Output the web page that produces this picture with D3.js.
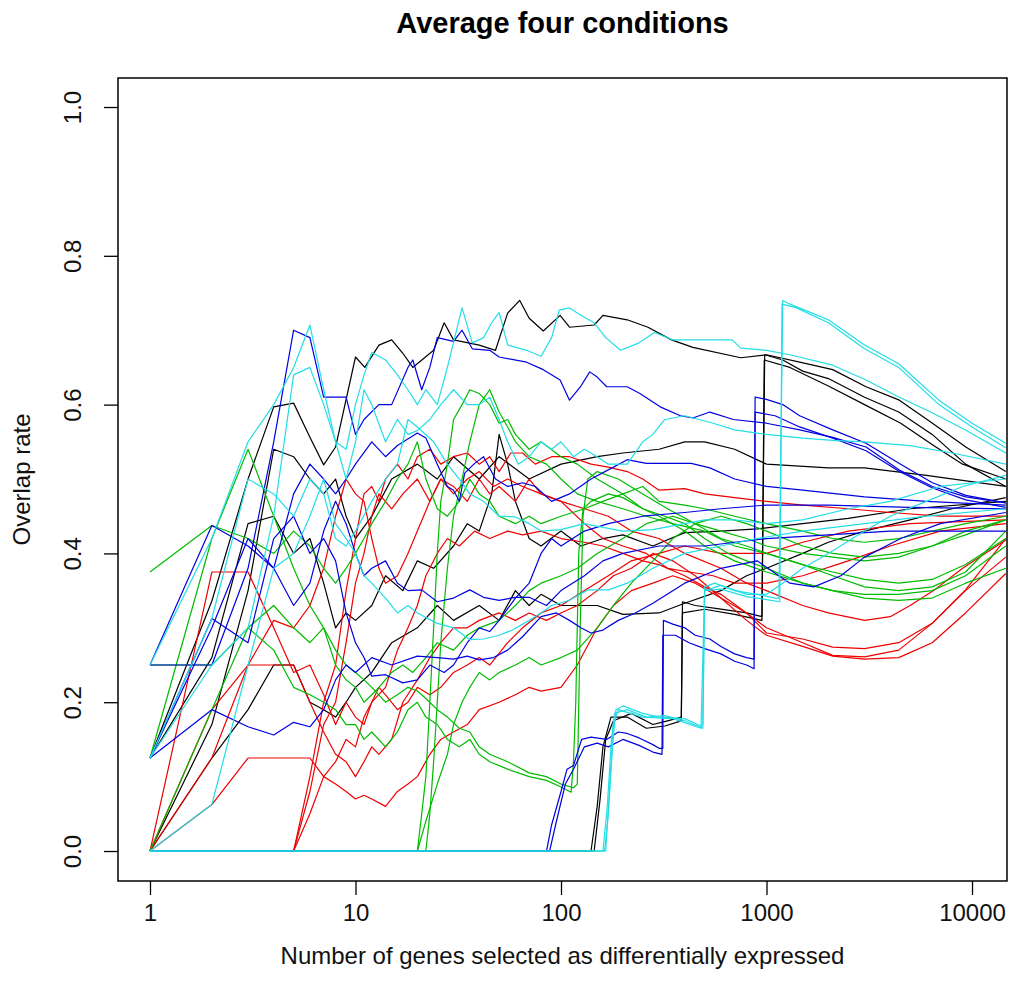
<!DOCTYPE html>
<html>
<head>
<meta charset="utf-8">
<script src="https://cdn.jsdelivr.net/npm/d3@7"></script>
<style>
  body { margin: 0; background: #fff; }
  text { font-family: "Liberation Sans", Arial, sans-serif; }
</style>
</head>
<body>
<svg id="chart" width="1011" height="998"></svg>
<script>
// tick values
const xTicks = [1, 10, 100, 1000, 10000];
const yTicks = [0, 0.2, 0.4, 0.6, 0.8, 1.0];

// each line: [number of genes, overlap rate]
const blackSeries = [
  [[1,0.125],[2,0.336],[3,0.5],[4,0.597],[5,0.602],[6,0.556],[7,0.519],[8,0.543],[10,0.664],[11.1,0.65],[13,0.68],[15,0.687],[17,0.669],[19,0.65],[24,0.673],[27,0.71],[30,0.687],[40,0.68],[48,0.673],[55,0.723],[63,0.74],[70,0.716],[82,0.699],[99,0.72],[110,0.704],[145,0.707],[160,0.72],[210,0.714],[265,0.704],[345,0.687],[438,0.677],[750,0.663],[1000,0.667],[1450,0.657],[2100,0.647],[3050,0.624],[4430,0.606],[6420,0.575],[9330,0.543],[14600,0.51]],
  [[1,0],[140,0],[150,0.06],[160,0.14],[175,0.18],[210,0.18],[260,0.165],[320,0.168],[385,0.175],[390,0.335],[450,0.33],[600,0.325],[800,0.32],[950,0.315],[980,0.667],[1200,0.66],[1500,0.645],[2000,0.635],[3000,0.61],[4400,0.59],[6400,0.56],[9300,0.52],[14600,0.49]],
  [[1,0],[145,0],[155,0.07],[165,0.15],[180,0.175],[220,0.185],[280,0.17],[330,0.175],[385,0.18],[390,0.32],[500,0.325],[700,0.318],[950,0.31],[975,0.66],[1300,0.65],[2000,0.625],[3000,0.6],[4500,0.575],[6500,0.545],[9000,0.52],[14600,0.5]],
  [[1,0],[2,0.17],[3,0.35],[4,0.54],[5,0.53],[6,0.5],[7,0.48],[8,0.5],[9,0.45],[10,0.42],[12,0.45],[15,0.5],[20,0.52],[25,0.5],[30,0.53],[40,0.5],[50,0.53],[70,0.5],[100,0.52],[150,0.53],[200,0.535],[300,0.54],[400,0.55],[500,0.55],[700,0.54],[1000,0.52],[2000,0.515],[3000,0.515],[6000,0.505],[14600,0.49]],
  [[1,0.125],[2,0.26],[3,0.44],[4,0.45],[5,0.4],[6,0.42],[7,0.36],[8,0.3],[9,0.32],[10,0.31],[12,0.33],[14,0.37],[17,0.35],[20,0.39],[24,0.38],[30,0.41],[35,0.44],[40,0.43],[46,0.48],[50,0.56],[55,0.52],[60,0.47],[70,0.42],[80,0.41],[100,0.43],[125,0.41],[160,0.42],[200,0.425],[280,0.41],[400,0.428],[600,0.43],[900,0.433],[1500,0.44],[2500,0.447],[5000,0.46],[14600,0.47]],
  [[1,0],[2,0.125],[3,0.19],[4,0.25],[5,0.25],[6,0.2],[7,0.19],[8,0.18],[9,0.2],[10,0.22],[12,0.24],[15,0.28],[20,0.3],[25,0.33],[30,0.31],[40,0.33],[50,0.31],[60,0.35],[70,0.33],[80,0.345],[100,0.33],[150,0.33],[200,0.318],[300,0.32],[400,0.333],[600,0.35],[800,0.37],[1000,0.38],[1500,0.4],[2000,0.415],[3000,0.43],[5000,0.445],[8000,0.46],[14600,0.475]]
];

const redSeries = [
  [[1,0],[5,0],[6,0.1],[7,0.2],[8,0.25],[9,0.35],[10,0.42],[11,0.48],[12,0.49],[13,0.47],[14,0.5],[16,0.52],[18,0.5],[20,0.53],[23,0.54],[26,0.52],[30,0.53],[35,0.535],[40,0.52],[45,0.53],[50,0.51],[57,0.535],[65,0.535],[75,0.52],[90,0.53],[110,0.53],[140,0.52],[170,0.516],[210,0.51],[250,0.5],[300,0.485],[400,0.487],[500,0.48],[700,0.475],[1000,0.47],[1500,0.465],[2500,0.46],[4000,0.455],[7000,0.45],[14600,0.45]],
  [[1,0],[5,0],[6,0.08],[7,0.17],[8,0.2],[9,0.28],[10,0.36],[11,0.4],[12,0.45],[13,0.48],[15,0.46],[17,0.48],[20,0.5],[23,0.47],[26,0.5],[30,0.49],[35,0.47],[40,0.5],[45,0.48],[50,0.49],[60,0.47],[70,0.5],[80,0.48],[100,0.47],[130,0.46],[170,0.45],[220,0.43],[300,0.42],[400,0.4],[600,0.38],[800,0.36],[1000,0.35],[1500,0.33],[2000,0.32],[3000,0.31],[4000,0.315],[5000,0.33],[6500,0.35],[9000,0.38],[14600,0.418]],
  [[1,0],[2,0.375],[3,0.375],[4,0.3],[5,0.24],[6,0.25],[7,0.21],[8,0.17],[9,0.2],[10,0.18],[11,0.17],[12,0.2],[14,0.22],[16,0.27],[18,0.3],[20,0.33],[22,0.37],[25,0.4],[28,0.42],[32,0.41],[38,0.43],[45,0.42],[55,0.43],[65,0.425],[80,0.43],[100,0.42],[130,0.415],[160,0.41],[200,0.4],[250,0.39],[300,0.385],[400,0.37],[500,0.355],[600,0.345],[800,0.32],[1000,0.293],[1500,0.285],[2100,0.274],[3000,0.272],[4400,0.28],[6400,0.306],[9300,0.351],[14600,0.42]],
  [[1,0],[2,0.125],[3,0.25],[4,0.25],[5,0.25],[6,0.2],[7,0.16],[8,0.13],[9,0.12],[10,0.1],[11,0.12],[12,0.14],[13,0.13],[15,0.15],[17,0.2],[20,0.23],[23,0.26],[26,0.28],[30,0.3],[35,0.3],[40,0.31],[50,0.32],[60,0.31],[70,0.32],[85,0.31],[100,0.32],[120,0.33],[150,0.35],[180,0.37],[220,0.38],[280,0.4],[350,0.39],[450,0.37],[600,0.34],[800,0.32],[1000,0.3],[1500,0.28],[2100,0.263],[3000,0.261],[4400,0.27],[6400,0.306],[9300,0.35],[14600,0.395]],
  [[1,0],[2,0.0625],[3,0.125],[4,0.125],[5,0.125],[6,0.125],[7,0.1],[8,0.09],[9,0.08],[10,0.07],[11,0.075],[12,0.07],[14,0.06],[16,0.08],[18,0.09],[20,0.1],[23,0.13],[26,0.15],[30,0.16],[35,0.17],[40,0.19],[50,0.2],[60,0.21],[70,0.22],[80,0.215],[100,0.22],[120,0.25],[150,0.3],[180,0.33],[220,0.35],[280,0.36],[350,0.37],[450,0.36],[600,0.34],[800,0.31],[1000,0.29],[1500,0.275],[2100,0.262],[3000,0.258],[4400,0.26],[6400,0.28],[9300,0.32],[14600,0.373]],
  [[1,0],[2,0.19],[3,0.25],[4,0.31],[5,0.3],[6,0.33],[7,0.38],[8,0.45],[9,0.5],[10,0.48],[11,0.47],[12,0.42],[13,0.38],[14,0.36],[16,0.37],[18,0.4],[20,0.43],[23,0.47],[26,0.5],[30,0.48],[35,0.5],[40,0.51],[47,0.49],[55,0.5],[65,0.49],[80,0.48],[100,0.47],[130,0.44],[160,0.42],[200,0.41],[260,0.4],[330,0.38],[420,0.375],[550,0.37],[700,0.36],[1000,0.36],[1500,0.37],[2500,0.39],[4000,0.41],[7000,0.43],[14600,0.44]],
  [[1,0],[5,0],[6,0.05],[7,0.1],[8,0.12],[9,0.15],[10,0.14],[11,0.18],[12,0.2],[13,0.22],[14,0.21],[16,0.19],[18,0.2],[20,0.22],[23,0.21],[26,0.22],[30,0.24],[35,0.25],[40,0.26],[45,0.25],[55,0.28],[65,0.3],[80,0.32],[100,0.33],[130,0.35],[170,0.37],[220,0.39],[300,0.4],[400,0.41],[600,0.4],[1000,0.4],[1500,0.415],[2500,0.43],[5000,0.44],[14600,0.445]]
];

const greenSeries = [
  [[1,0.25],[2,0.25],[3,0.3],[4,0.27],[5,0.22],[6,0.21],[7,0.2],[8,0.19],[9,0.17],[10,0.17],[11,0.15],[12,0.16],[14,0.14],[16,0.16],[18,0.19],[20,0.2],[22,0.18],[25,0.17],[28,0.15],[32,0.14],[36,0.15],[40,0.13],[45,0.12],[55,0.11],[70,0.1],[85,0.095],[100,0.086],[112,0.079],[115,0.12],[118,0.2],[122,0.4],[128,0.46],[140,0.47],[170,0.48],[200,0.475],[250,0.46],[320,0.45],[400,0.44],[500,0.42],[650,0.4],[800,0.39],[1000,0.38],[1500,0.36],[2100,0.35],[3000,0.345],[4400,0.345],[6400,0.35],[9300,0.37],[14600,0.41]],
  [[1,0.125],[2,0.42],[3,0.54],[4,0.45],[5,0.38],[6,0.33],[7,0.3],[8,0.27],[9,0.25],[10,0.24],[11,0.23],[12,0.22],[14,0.2],[16,0.21],[18,0.22],[20,0.215],[22,0.205],[25,0.19],[28,0.18],[32,0.165],[36,0.16],[40,0.14],[45,0.13],[55,0.12],[70,0.105],[85,0.1],[100,0.09],[115,0.085],[120,0.09],[124,0.3],[128,0.45],[135,0.5],[150,0.51],[190,0.5],[250,0.48],[330,0.46],[450,0.44],[600,0.42],[800,0.41],[1000,0.4],[1500,0.385],[2100,0.37],[3000,0.355],[4400,0.35],[6400,0.355],[9300,0.375],[14600,0.43]],
  [[1,0],[20,0],[21,0.05],[22,0.1],[23,0.2],[24,0.3],[25,0.4],[26,0.47],[28,0.52],[30,0.58],[33,0.6],[36,0.62],[40,0.615],[45,0.6],[50,0.575],[55,0.58],[60,0.56],[70,0.54],[80,0.55],[100,0.53],[120,0.52],[150,0.5],[200,0.48],[250,0.46],[300,0.45],[400,0.43],[500,0.41],[700,0.39],[1000,0.375],[1500,0.36],[2100,0.35],[3000,0.34],[4400,0.337],[6400,0.34],[9300,0.36],[14600,0.38]],
  [[1,0],[22,0],[23,0.05],[24,0.12],[25,0.2],[26,0.28],[28,0.38],[30,0.45],[33,0.5],[36,0.55],[40,0.6],[45,0.62],[50,0.59],[55,0.57],[60,0.55],[70,0.53],[85,0.52],[100,0.5],[120,0.48],[150,0.47],[200,0.46],[260,0.45],[350,0.44],[500,0.43],[700,0.41],[1000,0.4],[1500,0.385],[2100,0.375],[3000,0.365],[4400,0.36],[6400,0.365],[9300,0.385],[14600,0.42]],
  [[1,0.375],[2,0.4375],[3,0.42],[4,0.4],[5,0.43],[6,0.41],[7,0.38],[8,0.36],[9,0.38],[10,0.4],[11,0.42],[12,0.44],[14,0.47],[16,0.5],[18,0.52],[20,0.55],[22,0.5],[25,0.46],[28,0.45],[32,0.47],[36,0.5],[40,0.48],[45,0.47],[50,0.45],[60,0.44],[70,0.45],[80,0.44],[100,0.45],[130,0.46],[160,0.47],[200,0.48],[250,0.49],[300,0.47],[400,0.465],[500,0.46],[700,0.45],[1000,0.44],[1500,0.43],[2100,0.42],[3000,0.415],[4400,0.42],[6400,0.43],[9300,0.44],[14600,0.45]],
  [[1,0],[2,0.19],[3,0.3],[4,0.33],[5,0.3],[6,0.28],[7,0.3],[8,0.25],[9,0.23],[10,0.22],[11,0.2],[12,0.21],[13,0.22],[15,0.24],[17,0.25],[19,0.24],[22,0.26],[25,0.28],[30,0.27],[35,0.29],[40,0.3],[50,0.31],[60,0.33],[70,0.35],[80,0.36],[100,0.37],[120,0.38],[150,0.4],[200,0.42],[260,0.44],[350,0.45],[450,0.44],[600,0.43],[800,0.42],[1000,0.41],[1500,0.4],[2100,0.395],[3000,0.39],[4400,0.395],[6400,0.41],[9300,0.43],[14600,0.445]],
  [[1,0],[20,0],[22,0.04],[25,0.09],[28,0.13],[30,0.17],[33,0.2],[36,0.22],[40,0.24],[45,0.23],[50,0.24],[60,0.25],[70,0.26],[80,0.25],[100,0.26],[120,0.27],[150,0.3],[180,0.33],[220,0.36],[280,0.39],[350,0.42],[450,0.44],[600,0.45],[800,0.44],[1000,0.43],[1500,0.41],[2100,0.4],[3000,0.395],[4400,0.4],[6400,0.41],[9300,0.425],[14600,0.445]]
];

const blueSeries = [
  [[1,0.25],[2,0.25],[3,0.38],[4,0.55],[5,0.7],[6,0.69],[7,0.61],[8,0.61],[9,0.61],[10,0.56],[11,0.58],[13,0.6],[15,0.6],[18,0.65],[19,0.66],[21,0.62],[23,0.65],[25,0.69],[30,0.685],[33,0.7],[37,0.675],[45,0.673],[50,0.664],[68,0.657],[82,0.647],[99,0.633],[110,0.606],[125,0.625],[138,0.644],[150,0.637],[167,0.624],[210,0.624],[242,0.615],[304,0.597],[381,0.585],[438,0.582],[530,0.59],[690,0.58],[1000,0.575],[1450,0.566],[2100,0.556],[3050,0.543],[4430,0.512],[6420,0.49],[9330,0.476],[14600,0.468]],
  [[1,0],[85,0],[90,0.035],[100,0.08],[107,0.11],[115,0.115],[126,0.15],[140,0.153],[167,0.15],[190,0.16],[210,0.158],[240,0.152],[280,0.143],[300,0.138],[313,0.138],[315,0.31],[350,0.305],[400,0.3],[450,0.29],[530,0.285],[600,0.275],[700,0.265],[800,0.26],[870,0.258],[880,0.61],[1000,0.607],[1200,0.6],[1450,0.585],[2100,0.566],[3050,0.548],[4430,0.521],[6420,0.495],[9330,0.478],[14600,0.468]],
  [[1,0],[88,0],[95,0.04],[105,0.09],[115,0.11],[130,0.14],[150,0.145],[170,0.14],[200,0.15],[240,0.142],[280,0.133],[310,0.13],[313,0.29],[360,0.29],[420,0.28],[500,0.272],[600,0.265],[700,0.255],[800,0.25],[870,0.245],[880,0.59],[1100,0.585],[1450,0.57],[2100,0.555],[3050,0.538],[4430,0.51],[6420,0.488],[9330,0.472],[14600,0.462]],
  [[1,0.125],[2,0.19],[3,0.167],[4,0.156],[5,0.173],[6,0.167],[7,0.19],[8,0.23],[9,0.25],[10,0.24],[12,0.26],[15,0.25],[20,0.262],[25,0.26],[30,0.258],[35,0.262],[40,0.257],[47,0.26],[55,0.27],[65,0.288],[80,0.315],[95,0.32],[110,0.31],[125,0.3],[140,0.293],[160,0.297],[190,0.31],[230,0.32],[280,0.333],[400,0.36],[600,0.38],[900,0.39],[1300,0.36],[1700,0.355],[2300,0.37],[3000,0.395],[4500,0.42],[7000,0.44],[14600,0.455]],
  [[1,0.25],[2,0.4375],[3,0.41],[4,0.38],[5,0.33],[6,0.36],[7,0.43],[8,0.47],[9,0.44],[10,0.4],[11,0.37],[12,0.38],[14,0.39],[16,0.36],[18,0.35],[21,0.351],[25,0.335],[30,0.34],[36,0.351],[42,0.341],[50,0.337],[60,0.341],[70,0.341],[85,0.33],[100,0.35],[130,0.37],[160,0.39],[200,0.4],[300,0.41],[500,0.41],[700,0.415],[1000,0.42],[2000,0.425],[4000,0.43],[14600,0.43]],
  [[1,0.125],[2,0.3],[3,0.42],[4,0.38],[5,0.48],[6,0.52],[7,0.5],[8,0.48],[9,0.5],[10,0.52],[12,0.55],[14,0.53],[16,0.545],[20,0.562],[22,0.555],[25,0.52],[28,0.49],[30,0.485],[32,0.47],[34,0.508],[38,0.521],[42,0.53],[48,0.5],[55,0.49],[65,0.495],[75,0.49],[90,0.47],[110,0.48],[140,0.5],[180,0.516],[210,0.526],[260,0.521],[330,0.521],[430,0.521],[530,0.515],[700,0.5],[1000,0.49],[1500,0.485],[3000,0.476],[6000,0.47],[14600,0.465]],
  [[1,0.125],[2,0.3125],[3,0.28],[4,0.42],[5,0.45],[6,0.4],[7,0.42],[8,0.39],[9,0.32],[10,0.28],[11,0.26],[12,0.235],[14,0.237],[17,0.226],[20,0.23],[23,0.25],[27,0.24],[30,0.25],[35,0.28],[40,0.3],[45,0.295],[50,0.31],[60,0.34],[70,0.36],[80,0.4],[90,0.42],[100,0.41],[130,0.43],[170,0.44],[250,0.45],[400,0.455],[600,0.46],[1000,0.465],[2000,0.465],[5000,0.462],[14600,0.46]]
];

const cyanSeries = [
  [[1,0.25],[2,0.42],[3,0.55],[4,0.6],[5,0.65],[6,0.707],[7,0.62],[8,0.55],[9,0.54],[10,0.6],[11,0.64],[12,0.67],[14,0.66],[16,0.64],[18,0.62],[20,0.6],[22,0.62],[25,0.6],[28,0.65],[33,0.73],[37,0.683],[42,0.69],[46,0.71],[50,0.724],[55,0.68],[68,0.673],[80,0.665],[90,0.69],[98,0.727],[110,0.73],[125,0.72],[145,0.71],[165,0.69],[195,0.673],[240,0.683],[285,0.697],[350,0.687],[520,0.687],[680,0.687],[750,0.676],[1000,0.673],[1300,0.667],[2100,0.653],[3050,0.633],[4430,0.61],[6400,0.589],[9300,0.566],[14600,0.535]],
  [[1,0.125],[2,0.25],[3,0.3],[4,0.45],[5,0.64],[6,0.65],[7,0.6],[8,0.55],[9,0.5],[10,0.55],[11,0.62],[12,0.6],[14,0.55],[16,0.58],[18,0.56],[20,0.565],[23,0.58],[26,0.6],[30,0.62],[35,0.6],[40,0.6],[45,0.61],[50,0.58],[55,0.55],[62,0.52],[70,0.53],[80,0.55],[90,0.54],[100,0.55],[115,0.53],[130,0.54],[150,0.53],[170,0.52],[210,0.52],[250,0.55],[280,0.56],[320,0.58],[400,0.585],[550,0.575],[700,0.566],[1000,0.56],[1500,0.555],[2100,0.552],[3000,0.55],[5000,0.545],[8000,0.535],[14600,0.52]],
  [[1,0],[2,0.0625],[3,0.25],[4,0.38],[5,0.4],[6,0.45],[7,0.5],[8,0.44],[9,0.42],[10,0.4],[11,0.37],[12,0.36],[14,0.34],[16,0.32],[18,0.33],[20,0.32],[25,0.306],[30,0.3],[36,0.284],[42,0.285],[50,0.29],[58,0.297],[70,0.31],[80,0.32],[90,0.33],[110,0.337],[135,0.351],[170,0.351],[210,0.36],[280,0.38],[400,0.4],[600,0.41],[900,0.42],[1500,0.43],[3000,0.44],[6000,0.45],[14600,0.46]],
  [[1,0.125],[2,0.3125],[3,0.5],[4,0.48],[5,0.45],[6,0.5],[7,0.48],[8,0.42],[9,0.41],[10,0.43],[12,0.47],[14,0.5],[16,0.52],[18,0.58],[20,0.57],[24,0.55],[28,0.52],[32,0.5],[36,0.48],[42,0.47],[50,0.45],[60,0.449],[70,0.44],[80,0.43],[100,0.432],[130,0.44],[160,0.435],[200,0.43],[280,0.432],[400,0.44],[500,0.445],[700,0.445],[1000,0.44],[1500,0.445],[2500,0.46],[4000,0.47],[7000,0.49],[14600,0.5]],
  [[1,0],[165,0],[172,0.08],[180,0.17],[190,0.19],[250,0.18],[350,0.178],[480,0.165],[500,0.35],[600,0.357],[800,0.345],[1000,0.345],[1200,0.36],[1500,0.38],[2000,0.4],[3000,0.43],[4000,0.45],[6000,0.47],[9000,0.49],[14600,0.505]],
  [[1,0],[160,0],[168,0.06],[176,0.15],[182,0.185],[210,0.19],[260,0.18],[320,0.182],[400,0.175],[490,0.165],[500,0.35],[600,0.352],[800,0.342],[1000,0.338],[1160,0.335],[1190,0.735],[1400,0.73],[2000,0.71],[3000,0.675],[4400,0.65],[6900,0.6],[10000,0.57],[14600,0.542]],
  [[1,0],[163,0],[170,0.05],[178,0.14],[185,0.19],[200,0.195],[250,0.185],[300,0.18],[400,0.178],[480,0.168],[490,0.17],[500,0.355],[560,0.36],[700,0.35],[900,0.345],[1100,0.34],[1150,0.34],[1200,0.74],[1300,0.735],[1600,0.725],[2000,0.714],[3000,0.68],[4400,0.655],[6900,0.606],[10000,0.575],[14600,0.548]]
];

const groups = [
  {series: blackSeries, color: "#000000"},
  {series: redSeries, color: "#ee0000"},
  {series: greenSeries, color: "#00bb00"},
  {series: blueSeries, color: "#0000e0"},
  {series: cyanSeries, color: "#22dde6"}
];

const box = {left: 118, right: 1007, top: 78, bottom: 881};
const svg = d3.select("#chart");

const x = d3.scaleLog()
  .domain([Math.pow(10, -0.1557), Math.pow(10, 4.1703)])
  .range([box.left, box.right]);
const y = d3.scaleLinear()
  .domain([-0.0403, 1.0390])
  .range([box.bottom, box.top]);

svg.append("defs").append("clipPath").attr("id", "plotClip")
  .append("rect")
  .attr("x", box.left).attr("y", box.top)
  .attr("width", box.right - box.left).attr("height", box.bottom - box.top);

const line = d3.line().x(d => x(d[0])).y(d => y(d[1]));

const lines = svg.append("g").attr("clip-path", "url(#plotClip)");
groups.forEach(g => {
  lines.selectAll(null)
    .data(g.series)
    .enter().append("path")
    .attr("d", line)
    .attr("fill", "none")
    .attr("stroke", g.color)
    .attr("stroke-width", 1.2)
    .attr("stroke-linejoin", "round");
});

// frame
svg.append("rect")
  .attr("x", box.left).attr("y", box.top)
  .attr("width", box.right - box.left).attr("height", box.bottom - box.top)
  .attr("fill", "none").attr("stroke", "#000").attr("stroke-width", 1.5);

// x axis
const xAxis = svg.append("g").attr("transform", `translate(0,${box.bottom})`)
  .call(d3.axisBottom(x).tickValues(xTicks).tickSize(14).tickFormat(d3.format("d")));
xAxis.select(".domain").remove();
xAxis.selectAll(".tick line").attr("stroke-width", 1.3);
xAxis.selectAll(".tick text")
  .attr("y", 40).attr("dy", 0)
  .attr("font-size", 24).attr("font-family", "Liberation Sans, Arial, sans-serif")
  .attr("fill", "#111");

// y axis
const yAxis = svg.append("g").attr("transform", `translate(${box.left},0)`)
  .call(d3.axisLeft(y).tickValues(yTicks).tickSize(14).tickFormat(d3.format(".1f")));
yAxis.select(".domain").remove();
yAxis.selectAll(".tick line").attr("stroke-width", 1.3);
yAxis.selectAll(".tick text")
  .attr("x", 0).attr("dy", 0)
  .attr("transform", "translate(-37,0) rotate(-90)")
  .attr("text-anchor", "middle")
  .attr("font-size", 24).attr("font-family", "Liberation Sans, Arial, sans-serif")
  .attr("fill", "#111");

// titles
svg.append("text")
  .attr("x", (box.left + box.right) / 2).attr("y", 33)
  .attr("text-anchor", "middle")
  .attr("font-size", 29).attr("font-weight", "bold")
  .text("Average four conditions");

svg.append("text")
  .attr("x", (box.left + box.right) / 2).attr("y", 964)
  .attr("text-anchor", "middle")
  .attr("font-size", 24).attr("fill", "#111")
  .text("Number of genes selected as differentially expressed");

svg.append("text")
  .attr("transform", `translate(30,${(box.top + box.bottom) / 2}) rotate(-90)`)
  .attr("text-anchor", "middle")
  .attr("font-size", 24).attr("fill", "#111")
  .text("Overlap rate");
</script>
</body>
</html>
